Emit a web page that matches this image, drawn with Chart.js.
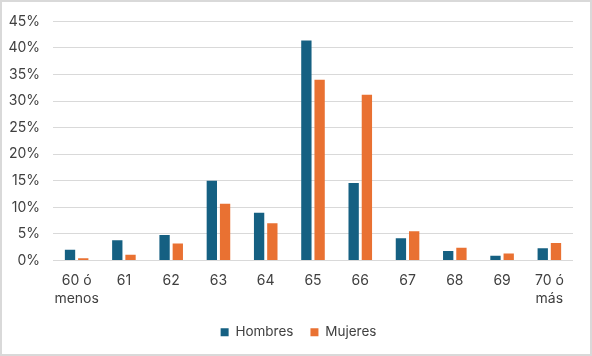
<!DOCTYPE html>
<html>
<head>
<meta charset="utf-8">
<script src="https://cdn.jsdelivr.net/npm/chart.js@4/dist/chart.umd.min.js"></script>
<style>
  html, body { margin: 0; padding: 0; background: #ffffff; }
  #wrap { position: relative; width: 592px; height: 356px; }
  #c { position: absolute; left: 0; top: 0; }
  #frame { position: absolute; left: 0; top: 0; width: 592px; height: 356px; box-sizing: border-box; border: 2px solid #d9d9d9; pointer-events: none; }
</style>
</head>
<body>
<div id="wrap">
  <canvas id="c" width="592" height="356"></canvas>
  <div id="frame"></div>
</div>
<script>
const categories = [["60 ó", "menos"], "61", "62", "63", "64", "65", "66", "67", "68", "69", ["70 ó", "más"]];
const hombres = [2.0, 3.8, 4.8, 15.0, 9.0, 41.4, 14.6, 4.2, 1.8, 0.9, 2.3];
const mujeres = [0.4, 1.1, 3.2, 10.7, 7.0, 34.0, 31.2, 5.5, 2.4, 1.3, 3.3];
const yTicks = [0, 5, 10, 15, 20, 25, 30, 35, 40, 45];

const FONT = { family: "Inter, 'Liberation Sans', sans-serif", size: 14 };
const LFONT = { family: "Inter, 'Liberation Sans', sans-serif", size: 13.5 };
const XFONT = { family: "Inter, 'Liberation Sans', sans-serif", size: 14, lineHeight: 1.3 };
const TEXT = '#404040';

// centre the legend under the whole frame rather than under the padded box
const legendShift = {
  id: 'legendShift',
  afterLayout(chart) {
    const lg = chart.legend;
    if (lg) { lg.left += 8; lg.right += 8; }
  }
};

new Chart(document.getElementById('c'), {
  type: 'bar',
  data: {
    labels: categories,
    datasets: [
      { label: 'Hombres', data: hombres, backgroundColor: '#156082', categoryPercentage: 0.56, barPercentage: 0.78 },
      { label: 'Mujeres', data: mujeres, backgroundColor: '#E97132', categoryPercentage: 0.56, barPercentage: 0.78 }
    ]
  },
  plugins: [legendShift],
  options: {
    responsive: false,
    animation: false,
    devicePixelRatio: 1,
    layout: { padding: { left: 8, right: 19, top: 19, bottom: 7 } },
    plugins: {
      tooltip: { enabled: false },
      legend: {
        position: 'bottom',
        labels: { boxWidth: 8, boxHeight: 8, padding: 17, color: TEXT, font: LFONT }
      }
    },
    scales: {
      x: {
        grid: { display: false, drawTicks: false, tickLength: 0 },
        border: { display: false },
        ticks: { color: TEXT, font: XFONT, padding: 11, maxRotation: 0, autoSkip: false },
        afterFit: s => { s.height = 48; }
      },
      y: {
        min: 0, max: 45,
        afterBuildTicks: s => { s.ticks = yTicks.map(v => ({ value: v })); },
        grid: { color: '#d9d9d9', lineWidth: 1, drawTicks: false, tickLength: 0 },
        border: { display: false },
        ticks: { color: TEXT, font: FONT, padding: 13, callback: v => v + '%' },
        afterFit: s => { s.width = 45; }
      }
    }
  }
});
</script>
</body>
</html>
